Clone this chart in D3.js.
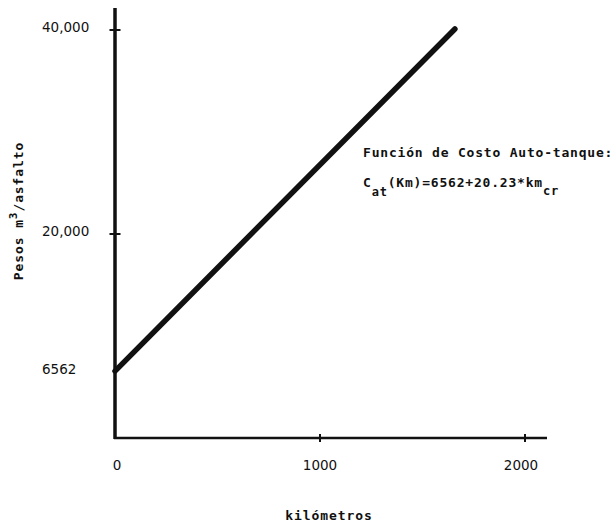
<!DOCTYPE html>
<html>
<head>
<meta charset="utf-8">
<script src="https://cdn.jsdelivr.net/npm/d3@7"></script>
<style>
  html, body { margin: 0; padding: 0; background: #fff; }
</style>
</head>
<body>
<div id="chart"></div>
<script>
// Cost line: km vs pesos per m3 of asphalt.
const kmValues   = [0, 1658];
const costValues = [6562, 40100];
const xTicks     = [0, 1000, 2000];
const yTicks     = [6562, 20000, 40000];
const yTickLabels = ["6562", "20,000", "40,000"];

const W = 616, H = 523;
const X0 = 115, Y0 = 438;

const x = d3.scaleLinear().domain([0, 2000]).range([X0, 525]);
const y = d3.scaleLinear().domain([0, 40000]).range([438, 30]);

const svg = d3.select("#chart").append("svg")
  .attr("width", W).attr("height", H)
  .attr("viewBox", `0 0 ${W} ${H}`);

const ink = "#111";

// Axes: thick hand-ruled lines with small cross ticks.
const gAxes = svg.append("g").attr("stroke", ink);
gAxes.append("line")
  .attr("x1", X0).attr("y1", 8).attr("x2", X0).attr("y2", Y0 + 1)
  .attr("stroke-width", 3.5);
gAxes.append("line")
  .attr("x1", X0 - 1).attr("y1", Y0).attr("x2", 547).attr("y2", Y0)
  .attr("stroke-width", 2.5);

gAxes.selectAll("line.ytick")
  .data(yTicks.filter((d) => d !== 6562))
  .join("line")
    .attr("class", "ytick")
    .attr("x1", X0 - 5.5).attr("x2", X0 + 5.5)
    .attr("y1", (d) => y(d)).attr("y2", (d) => y(d))
    .attr("stroke-width", 2);

gAxes.selectAll("line.xtick")
  .data(xTicks.filter((d) => d !== 0))
  .join("line")
    .attr("class", "xtick")
    .attr("x1", (d) => x(d)).attr("x2", (d) => x(d))
    .attr("y1", Y0 - 4).attr("y2", Y0 + 4)
    .attr("stroke-width", 2);

// Tick labels
const labelFont = "DejaVu Sans, sans-serif";
svg.append("g")
  .selectAll("text")
  .data(yTicks)
  .join("text")
    .attr("x", 42)
    .attr("y", (d) => y(d) + (d === 6562 ? 3 : 2))
    .attr("font-family", labelFont)
    .attr("font-size", 13.5)
    .attr("fill", ink)
    .text((d, i) => yTickLabels[i]);

svg.append("g")
  .selectAll("text")
  .data(xTicks)
  .join("text")
    .attr("x", (d) => x(d) + (d === 0 ? 2 : d === 2000 ? -4 : 0))
    .attr("y", 470)
    .attr("text-anchor", "middle")
    .attr("font-family", labelFont)
    .attr("font-size", 13.5)
    .attr("fill", ink)
    .text((d) => d);

// Cost line
const line = d3.line().x((d) => x(d[0])).y((d) => y(d[1]));
svg.append("path")
  .datum(kmValues.map((k, i) => [k, costValues[i]]))
  .attr("d", line)
  .attr("fill", "none")
  .attr("stroke", ink)
  .attr("stroke-width", 5.5)
  .attr("stroke-linecap", "round");

// Axis titles
const mono = "DejaVu Sans Mono, monospace";
svg.append("text")
  .attr("transform", "translate(23,211) rotate(-90)")
  .attr("text-anchor", "middle")
  .attr("font-family", mono)
  .attr("font-weight", "bold")
  .attr("font-size", 13)
  .attr("letter-spacing", 0.9)
  .attr("fill", ink)
  .html('Pesos m<tspan dy="-6" font-size="11">3</tspan><tspan dy="6">/asfalto</tspan>');

svg.append("text")
  .attr("x", 329).attr("y", 520)
  .attr("text-anchor", "middle")
  .attr("font-family", mono)
  .attr("font-weight", "bold")
  .attr("font-size", 13)
  .attr("letter-spacing", 0.9)
  .attr("fill", ink)
  .text("kilómetros");

// Annotation
const gNote = svg.append("g")
  .attr("font-family", mono)
  .attr("font-weight", "bold")
  .attr("font-size", 13)
  .attr("letter-spacing", 0.8)
  .attr("fill", ink);
gNote.append("text").attr("x", 363).attr("y", 157)
  .text("Función de Costo Auto-tanque:");
gNote.append("text").attr("x", 363).attr("y", 187)
  .html('C<tspan dy="9" font-size="12">at</tspan><tspan dy="-9">(Km)=6562+20.23*km</tspan><tspan dy="8" font-size="12">cr</tspan>');
</script>
</body>
</html>
